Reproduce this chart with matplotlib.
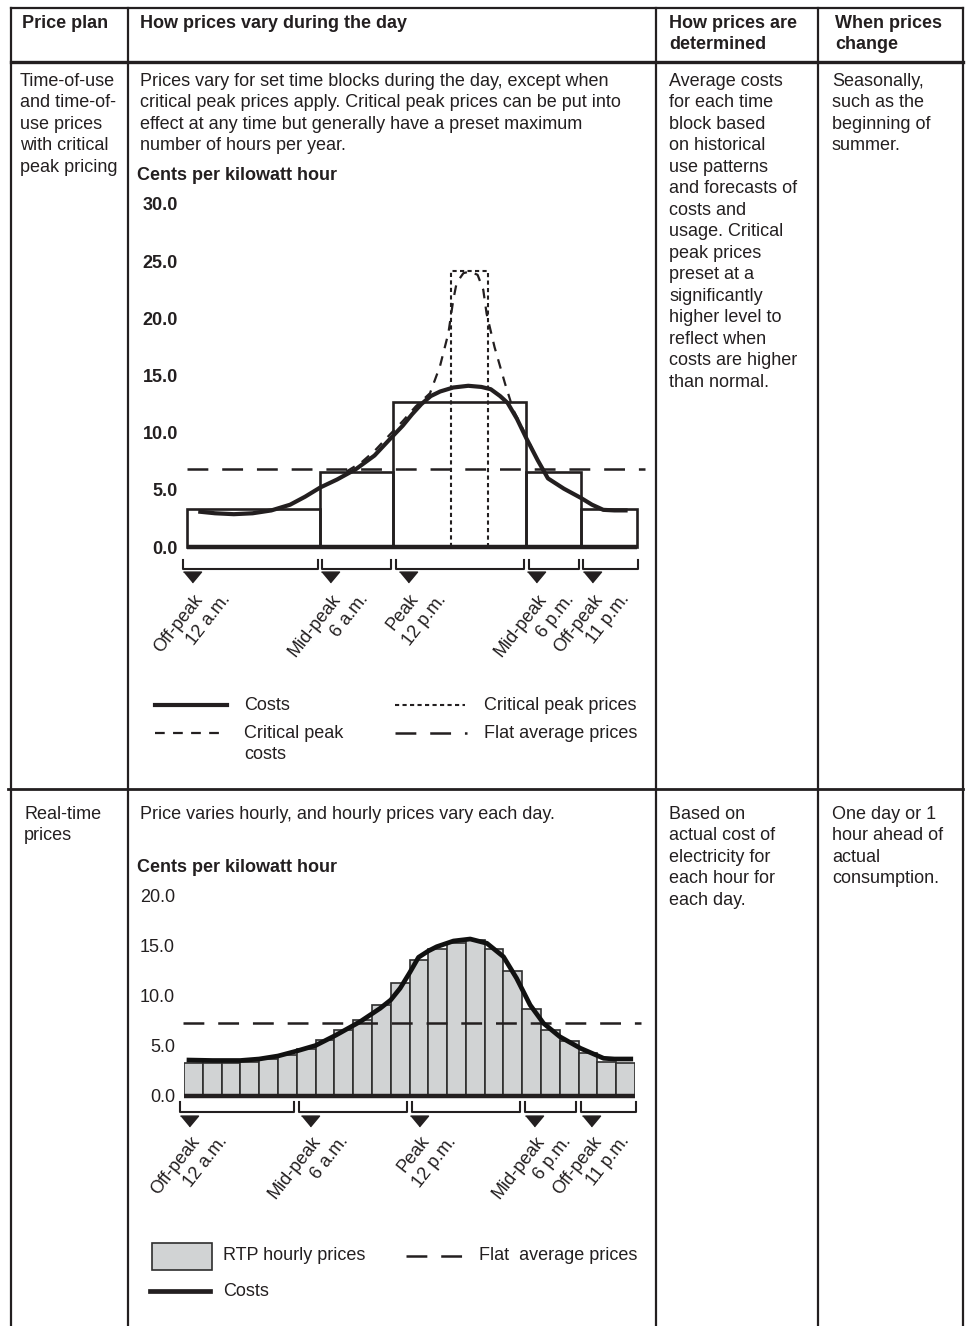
import numpy as np
import matplotlib
matplotlib.use('Agg')
import matplotlib.pyplot as plt
from matplotlib.lines import Line2D
from matplotlib.patches import Rectangle
from matplotlib.transforms import Affine2D

plt.rcParams['font.family'] = ['Liberation Sans', 'DejaVu Sans']
plt.rcParams['lines.scale_dashes'] = False

W, H = 967, 1326
INK = '#231f20'
FS = 13
LS = 1.345

# --- time-of-use / critical peak chart ---
tou_edges = [0, 7.1, 11.0, 18.1, 21.0, 24]
tou_prices = [3.3, 6.6, 12.7, 6.6, 3.3]
tou_flat = 6.85
cpp_start, cpp_end, cpp_level = 14.1, 16.05, 24.1
tou_cost_h = [0.6, 1.5, 2.5, 3.5, 4.5, 5.5, 6.3, 7.1, 8.0, 9.0, 10.0, 10.8, 11.5, 12.0,
              12.5, 13.0, 13.5, 14.2, 15.0, 15.7, 16.2, 16.7, 17.1, 17.6, 18.1, 18.7,
              19.25, 20.1, 21.0, 21.6, 22.2, 22.8, 23.5]
tou_cost_v = [3.1, 2.95, 2.87, 2.95, 3.2, 3.7, 4.4, 5.2, 5.9, 6.8, 8.0, 9.4, 10.6, 11.6,
              12.5, 13.2, 13.6, 13.95, 14.1, 14.0, 13.8, 13.2, 12.6, 11.2, 9.5, 7.6,
              6.0, 5.1, 4.3, 3.7, 3.25, 3.2, 3.2]
cpc_h = [8.5, 9.3, 10.0, 10.8, 11.5, 12.2, 12.96, 13.49, 13.94, 14.2, 14.38, 14.74,
         15.1, 15.5, 15.8, 15.98, 16.4, 16.96, 17.4, 18.1, 18.6, 19.1]
cpc_v = [6.6, 7.4, 8.4, 9.8, 11.0, 12.3, 13.45, 15.8, 18.7, 21.6, 23.1, 23.95,
         24.1, 23.8, 22.5, 20.4, 17.5, 14.3, 12.0, 9.7, 7.9, 6.4]
tou_marks = [0.27, 7.63, 11.79, 18.61, 21.6]

# --- real-time pricing chart ---
rtp_prices = [3.3, 3.3, 3.35, 3.45, 3.75, 4.1, 4.75, 5.6, 6.65, 7.65, 9.1, 11.3,
              13.65, 14.7, 15.35, 15.6, 14.7, 12.55, 8.75, 6.65, 5.55, 4.35, 3.4, 3.3]
rtp_flat = 7.27
rtp_cost_h = [0.14, 1.5, 3.0, 4.0, 5.0, 6.0, 7.0, 8.1, 9.37, 10.44, 11.0, 11.5, 12.0,
              12.48, 13.0, 13.45, 14.34, 15.23, 16.12, 17.0, 17.7, 18.42, 19.13, 20.0,
              21.1, 22.33, 22.9, 23.9]
rtp_cost_v = [3.6, 3.55, 3.55, 3.7, 4.0, 4.5, 5.05, 6.1, 7.43, 8.77, 9.6, 10.77, 12.3,
              13.87, 14.5, 14.93, 15.5, 15.7, 15.27, 13.93, 11.77, 9.1, 7.27, 5.93,
              4.77, 3.77, 3.7, 3.7]
rtp_edges = [0, 6, 12, 18, 21, 24]
rtp_marks = [0.28, 6.71, 12.48, 18.6, 21.67]

period_names = ['Off-peak', 'Mid-peak', 'Peak', 'Mid-peak', 'Off-peak']
period_times = ['12 a.m.', '6 a.m.', '12 p.m.', '6 p.m.', '11 p.m.']

fig = plt.figure(figsize=(W / 100, H / 100), dpi=100)
P = Affine2D().scale(1 / W, -1 / H).translate(0, 1) + fig.transFigure


def line(xs, ys, lw=2.0, **kw):
    fig.add_artist(Line2D(xs, ys, transform=P, color=INK, lw=lw, **kw))


def txt(x, y, s, va='top', **kw):
    fig.text(x, y, s, transform=P, ha='left', va=va, fontsize=FS, color=INK,
             linespacing=LS, **kw)


def axes_px(x0, y0, x1, y1):
    return fig.add_axes([x0 / W, 1 - y1 / H, (x1 - x0) / W, (y1 - y0) / H])


# table grid
line([11, 963], [8, 8], lw=1.6)
line([11, 963], [62, 62], lw=2.4)
line([8, 963], [789, 789], lw=2.0)
for x in [11, 128, 656, 818, 963]:
    line([x, x], [8, 1326], lw=1.6)

# header
for x, s in [(22, 'Price plan'), (140, 'How prices vary during the day'),
             (669, 'How prices are\ndetermined'), (835, 'When prices\nchange')]:
    txt(x, 15, s, fontweight='bold')

# row 1 text
txt(20, 73, 'Time-of-use\nand time-of-\nuse prices\nwith critical\npeak pricing')
txt(140, 73, 'Prices vary for set time blocks during the day, except when\n'
             'critical peak prices apply. Critical peak prices can be put into\n'
             'effect at any time but generally have a preset maximum\n'
             'number of hours per year.')
txt(669, 73, 'Average costs\nfor each time\nblock based\non historical\nuse patterns\n'
             'and forecasts of\ncosts and\nusage. Critical\npeak prices\npreset at a\n'
             'significantly\nhigher level to\nreflect when\ncosts are higher\nthan normal.')
txt(832, 73, 'Seasonally,\nsuch as the\nbeginning of\nsummer.')
txt(137, 167, 'Cents per kilowatt hour', fontweight='bold')

# row 2 text
txt(24, 806, 'Real-time\nprices')
txt(140, 806, 'Price varies hourly, and hourly prices vary each day.')
txt(669, 806, 'Based on\nactual cost of\nelectricity for\neach hour for\neach day.')
txt(832, 806, 'One day or 1\nhour ahead of\nactual\nconsumption.')
txt(137, 859, 'Cents per kilowatt hour', fontweight='bold')

tri = [(-1, 0.6), (1, 0.6), (0, -0.6)]


def base_axes(ax, ymax, step, weight='normal'):
    for s in ax.spines.values():
        s.set_visible(False)
    ax.set_xlim(0, 24)
    ax.set_ylim(0, ymax)
    ax.set_xticks([])
    ticks = np.arange(0, ymax + 0.1, step)
    ax.set_yticks(ticks)
    ax.set_yticklabels([f'{t:.1f}' for t in ticks], fontweight=weight)
    ax.tick_params(axis='y', length=0, pad=6.5, labelsize=FS, labelcolor=INK)
    ax.patch.set_alpha(0)
    ax.axhline(0, color=INK, lw=3.2, clip_on=False, zorder=5, solid_capstyle='butt')


def period_axis(ax, edges, marks, br_top, br_bot, tri_dy, lab_dy):
    # brackets, arrow marks and rotated period labels below the axis
    tr = ax.get_xaxis_transform()
    hpx = ax.bbox.height
    for a, b in zip(edges[:-1], edges[1:]):
        a0 = a - 0.2 if a == 0 else a + 0.12
        b0 = b + 0.05 if b == 24 else b - 0.12
        ax.plot([a0, a0, b0, b0],
                [-br_top / hpx, -br_bot / hpx, -br_bot / hpx, -br_top / hpx],
                transform=tr, color=INK, lw=1.5, clip_on=False)
    ax.plot(marks, [-tri_dy / hpx] * len(marks), ls='none', marker=tri, ms=13,
            color=INK, transform=tr, clip_on=False)
    for m, name, t in zip(marks, period_names, period_times):
        for s, dx in [(name, 1), (t, 28)]:
            ax.annotate(s, xy=(m, 0), xytext=(dx, -lab_dy), textcoords='offset pixels',
                        rotation=52, rotation_mode='anchor', ha='right', va='top',
                        fontsize=FS, color=INK, annotation_clip=False)


# top chart
ax1 = axes_px(187, 204, 637, 547)
base_axes(ax1, 30, 5, weight='bold')
ax1.bar(tou_edges[:-1], tou_prices, width=np.diff(tou_edges), align='edge',
        fill=False, edgecolor=INK, lw=1.9, clip_on=False, zorder=2)
ax1.plot([0, 24.43], [tou_flat, tou_flat], color=INK, lw=1.8, ls=(0, (15, 10)),
         clip_on=False, zorder=3)
ax1.plot([cpp_start, cpp_start, cpp_end, cpp_end], [0, cpp_level, cpp_level, 0],
         color=INK, lw=1.5, ls=(0, (3, 2.4)), zorder=3)
ax1.plot(cpc_h, cpc_v, color=INK, lw=1.6, ls=(0, (7, 6)), zorder=3)
ax1.plot(tou_cost_h, tou_cost_v, color=INK, lw=3.0, zorder=4,
         solid_joinstyle='round', solid_capstyle='butt')
period_axis(ax1, tou_edges, tou_marks, 13, 22, 30, 44)

# top legend
line([155, 227], [705, 705], lw=3.0)
txt(244, 705, 'Costs', va='center')
line([155, 227], [733, 733], lw=1.6, ls=(0, (7, 6)))
txt(244, 725, 'Critical peak\ncosts')
line([395, 465], [705, 705], lw=1.5, ls=(0, (3, 2.4)))
txt(484, 705, 'Critical peak prices', va='center')
line([395, 467], [733, 733], lw=1.8, ls=(0, (15, 10)))
txt(484, 733, 'Flat average prices', va='center')

# bottom chart
ax2 = axes_px(184, 896, 635, 1096)
base_axes(ax2, 20, 5)
ax2.bar(np.arange(24), rtp_prices, width=1.0, align='edge', color='#d1d3d4',
        edgecolor='#2e2e2e', lw=1.2, zorder=2)
ax2.plot([-0.05, 24.3], [rtp_flat, rtp_flat], color=INK, lw=1.8, ls=(0, (15, 10)),
         clip_on=False, zorder=3)
ax2.plot(rtp_cost_h, rtp_cost_v, color='#111111', lw=3.4, zorder=4,
         solid_joinstyle='round', solid_capstyle='butt')
period_axis(ax2, rtp_edges, rtp_marks, 6, 16, 25, 37)

# bottom legend
fig.add_artist(Rectangle((152, 1243), 60, 27, transform=P, facecolor='#d1d3d4',
                         edgecolor='#2e2e2e', lw=1.2))
txt(223, 1256, 'RTP hourly prices', va='center')
line([406, 463], [1256, 1256], lw=1.8, ls=(0, (15, 10)))
txt(479, 1256, 'Flat  average prices', va='center')
line([150, 210], [1291, 1291], lw=3.4)
txt(223, 1291, 'Costs', va='center')

fig.savefig('out.png', dpi=100)
